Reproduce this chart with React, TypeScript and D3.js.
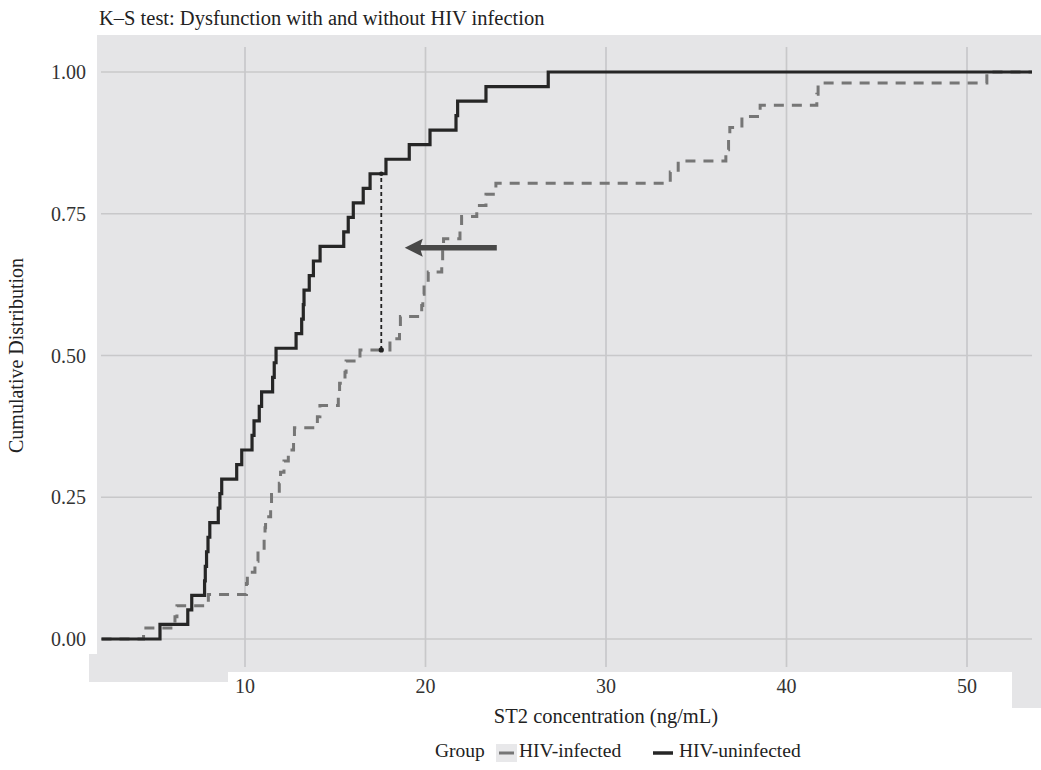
import React from 'react';
import * as d3 from 'd3';

// ---- data (ST2 concentrations, ng/mL, read from the ECDF steps) ----
const hivUninfected = [
  5.29, 6.83, 7.05, 7.76, 7.8, 7.87, 7.95, 8.05, 8.52, 8.61, 8.71, 9.54, 9.82,
  10.39, 10.5, 10.79, 10.92, 11.53, 11.62, 11.72, 12.83, 13.14, 13.23, 13.27,
  13.56, 13.79, 14.16, 15.47, 15.72, 16.0, 16.55, 16.93, 17.81, 19.1, 20.25,
  21.69, 21.78, 23.35, 26.8,
];
const hivInfected = [
  4.38, 6.12, 6.23, 7.97, 10.08, 10.13, 10.55, 10.72, 11.06, 11.11, 11.14,
  11.42, 11.47, 11.9, 11.97, 12.16, 12.4, 12.69, 12.74, 14.01, 14.15, 15.17,
  15.24, 15.54, 15.6, 16.37, 18.03, 18.56, 18.61, 19.79, 19.85, 19.92, 20.15,
  20.9, 20.95, 21.0, 21.91, 22.0, 22.84, 23.35, 23.9, 33.56, 34.0, 36.64,
  36.79, 36.86, 37.53, 38.54, 41.68, 41.75, 51.1,
];
const groupLabels = ['HIV-infected', 'HIV-uninfected'];
const xTicks = [10, 20, 30, 40, 50];
const yTicks = [0, 0.25, 0.5, 0.75, 1];
const yTickLabels = ['0.00', '0.25', '0.50', '0.75', '1.00'];
const ecdfLimits = [2.05, 53.6];
const ksAt = 17.55;
const arrowX = [18.85, 23.95];
const arrowY = 0.69;

const FONT = '"Liberation Serif", "DejaVu Serif", serif';

const x = d3.scaleLinear().domain([0, 50]).range([64.5, 967]);
const y = d3.scaleLinear().domain([0, 1]).range([639, 72]);

function ecdfPoints(obs: number[]): [number, number][] {
  const s = [...obs].sort(d3.ascending);
  const n = s.length;
  const pts: [number, number][] = [[ecdfLimits[0], 0]];
  s.forEach((v, i) => pts.push([v, (i + 1) / n]));
  pts.push([ecdfLimits[1], 1]);
  return pts;
}
function ecdfAt(obs: number[], v: number) {
  const s = [...obs].sort(d3.ascending);
  return d3.bisectRight(s, v) / s.length;
}

const line = d3
  .line<[number, number]>()
  .x((d) => x(d[0]))
  .y((d) => y(d[1]))
  .curve(d3.curveStepAfter);

export default function App() {
  const grayPath = line(ecdfPoints(hivInfected)) || '';
  const blackPath = line(ecdfPoints(hivUninfected)) || '';
  const ksLow = ecdfAt(hivInfected, ksAt);
  const ksHigh = ecdfAt(hivUninfected, ksAt);

  const panel =
    'M97,35 L1041,35 L1041,708 L1012,708 L1012,672 L228,672 L228,682 L89,682 L89,654 L97,654 Z';

  const ax = x(arrowX[0]);
  const tx = x(arrowX[1]);
  const ay = y(arrowY);
  const headLen = 18;
  const headHalf = 9;
  const shaftHalf = 2.8;
  const arrowPath = `M${ax},${ay} L${ax + headLen},${ay - headHalf} L${ax + headLen - 2},${ay - shaftHalf} L${tx},${ay - shaftHalf} L${tx},${ay + shaftHalf} L${ax + headLen - 2},${ay + shaftHalf} L${ax + headLen},${ay + headHalf} Z`;

  return (
    <svg width={1041} height={770} style={{ display: 'block', position: 'absolute', left: 0, top: 0 }}>
      <rect x={0} y={0} width={1041} height={770} fill="#ffffff" />
      <path d={panel} fill="#e5e5e7" />
      {yTicks.map((t) => (
        <line key={'hy' + t} x1={101} x2={1032} y1={y(t)} y2={y(t)} stroke="#c8c8ca" strokeWidth={1.7} />
      ))}
      {xTicks.map((t) => (
        <line key={'vx' + t} x1={x(t)} x2={x(t)} y1={47} y2={667} stroke="#c8c8ca" strokeWidth={1.7} />
      ))}
      <path d={grayPath} fill="none" stroke="#767676" strokeWidth={3} strokeDasharray="10,8" />
      <path d={blackPath} fill="none" stroke="#262626" strokeWidth={3.2} />
      <line x1={x(ksAt)} x2={x(ksAt)} y1={y(ksLow)} y2={y(ksHigh)} stroke="#222" strokeWidth={1.8} strokeDasharray="4,3" />
      <circle cx={x(ksAt)} cy={y(ksLow)} r={2.6} fill="#222" />
      <circle cx={x(ksAt)} cy={y(ksHigh)} r={2.2} fill="#222" />
      <path d={arrowPath} fill="#484848" />

      <text x={99} y={25} fontFamily={FONT} fontSize={20.5} fill="#222">
        K–S test: Dysfunction with and without HIV infection
      </text>
      {yTicks.map((t, i) => (
        <text key={'yl' + t} x={86} y={y(t)} dy="0.35em" textAnchor="end" fontFamily={FONT} fontSize={20} fill="#333">
          {yTickLabels[i]}
        </text>
      ))}
      {xTicks.map((t) => (
        <text key={'xl' + t} x={x(t)} y={693} textAnchor="middle" fontFamily={FONT} fontSize={20} fill="#333">
          {t}
        </text>
      ))}
      <text x={606} y={723} textAnchor="middle" fontFamily={FONT} fontSize={20.5} fill="#222">
        ST2 concentration (ng/mL)
      </text>
      <text
        transform={`translate(23,${y(0.5)}) rotate(-90)`}
        textAnchor="middle"
        fontFamily={FONT}
        fontSize={20}
        fill="#222"
      >
        Cumulative Distribution
      </text>

      <text x={435} y={757} fontFamily={FONT} fontSize={19.5} fill="#222">Group</text>
      <rect x={496} y={744} width={21} height={18} fill="#e8e8ea" />
      <line x1={499} x2={514} y1={753} y2={753} stroke="#767676" strokeWidth={3} />
      <text x={519} y={757} fontFamily={FONT} fontSize={19.5} fill="#222">{groupLabels[0]}</text>
      <rect x={652} y={744} width={21} height={18} fill="#ffffff" />
      <line x1={653} x2={673} y1={753} y2={753} stroke="#262626" strokeWidth={3.5} />
      <text x={679} y={757} fontFamily={FONT} fontSize={19.5} fill="#222">{groupLabels[1]}</text>
    </svg>
  );
}
